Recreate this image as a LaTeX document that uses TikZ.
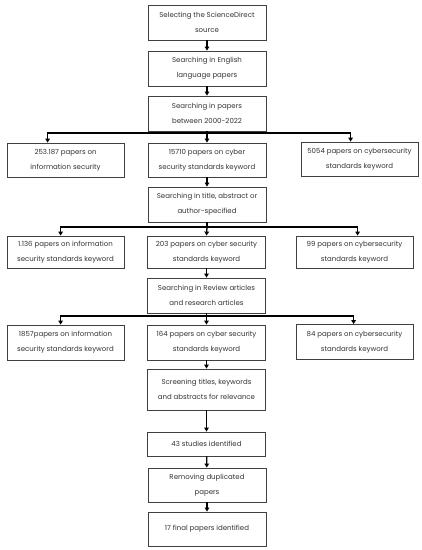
\documentclass[tikz,border=0pt]{standalone}
\usepackage{fontspec}
\setmainfont{Poppins}
\usetikzlibrary{arrows.meta}
\begin{document}
\begin{tikzpicture}[x=1pt,y=-1pt,
  box/.style={draw=black!75, line width=0.8pt, fill=white, text=black!80, align=center,
    inner sep=0pt, font=\fontsize{7}{15}\selectfont},
  cbox/.style={box, minimum width=118pt},
  sbox/.style={box, minimum width=117pt},
  link/.style={line width=1.3pt, black},
  arr/.style={link, -{Triangle[length=4pt,width=4.5pt]}}]
\useasboundingbox (0,0) rectangle (422,550);
% centre column
\node[cbox, minimum height=35pt] (b1) at (207,22.5) {Selecting the ScienceDirect\\source};
\node[cbox, minimum height=35pt] (b2) at (207,68.5) {Searching in English\\language papers};
\node[cbox, minimum height=35pt] (b3) at (207,113.5) {Searching in papers\\between 2000-2022};
% row 1
\node[sbox, minimum height=34pt] (r1a) at (65.5,160) {253.187 papers on\\information security};
\node[cbox, minimum height=34pt] (r1b) at (207,160) {15710 papers on cyber\\security standards keyword};
\node[sbox, minimum height=34pt] (r1c) at (359.5,159) {5054 papers on cybersecurity\\standards keyword};
\node[cbox, minimum height=35pt] (b4) at (207,204.5) {Searching in title, abstract or\\author-specified};
% row 2
\node[sbox, minimum height=32pt] (r2a) at (65.5,252) {1.136 papers on information\\security standards keyword};
\node[cbox, minimum height=32pt] (r2b) at (206.5,252) {203 papers on cyber security\\standards keyword};
\node[sbox, minimum height=32pt] (r2c) at (354.5,252) {99 papers on cybersecurity\\standards keyword};
\node[cbox, minimum height=35pt] (b5) at (206.5,295.5) {Searching in Review articles\\and research articles};
% row 3
\node[sbox, minimum height=35pt] (r3a) at (65.5,342.5) {1857papers on information\\security standards keyword};
\node[cbox, minimum height=35pt] (r3b) at (206.5,342.5) {164 papers on cyber security\\standards keyword};
\node[sbox, minimum height=35pt] (r3c) at (354.5,342) {84 papers on cybersecurity\\standards keyword};
\node[cbox, minimum height=41pt] (b6) at (206.5,389.5) {Screening titles, keywords\\and abstracts for relevance};
\node[cbox, minimum height=24pt] (b7) at (206.5,444) {43 studies identified};
\node[cbox, minimum height=34pt] (b8) at (207,485) {Removing duplicated\\papers};
\node[cbox, minimum height=34pt] (b9) at (207,529) {17 final papers identified};
% connectors
\draw[arr] (b1) -- (b2);
\draw[arr] (b2) -- (b3);
\coordinate (j1) at (207,133);
\draw[link] (b3.south) -- (j1);
\draw[arr] (j1) -| ([xshift=41pt]r1a.north west);
\draw[arr] (j1) -| ([xshift=50pt]r1c.north west);
\draw[arr] (j1) -- (r1b.north);
\draw[arr] (r1b) -- (b4);
\coordinate (j2) at (207,227);
\draw[link] (b4.south) -- (j2);
\draw[arr] (j2) -| ([xshift=54pt]r2a.north west);
\draw[arr] (j2) -| ([xshift=62pt]r2c.north west);
\draw[arr] (j2) -- (r2b.north);
\draw[arr] (r2b) -- (b5);
\coordinate (j3) at (206.5,316);
\draw[link] (b5.south) -- (j3);
\draw[arr] (j3) -| ([xshift=54pt]r3a.north west);
\draw[arr] (j3) -| ([xshift=58pt]r3c.north west);
\draw[arr] (j3) -- (r3b.north);
\draw[arr] (r3b) -- (b6);
\draw[arr] (b6) -- (b7);
\draw[arr] (b7) -- (b8);
\draw[arr] (b8) -- (b9);
\end{tikzpicture}
\end{document}
